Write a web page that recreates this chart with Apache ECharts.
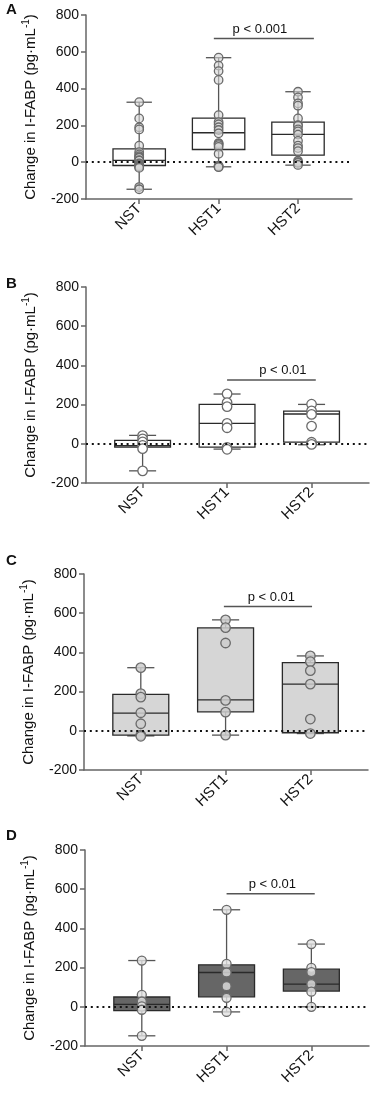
<!DOCTYPE html>
<html><head><meta charset="utf-8">
<script src="https://cdn.jsdelivr.net/npm/echarts@6/dist/echarts.min.js"></script>
<style>html,body{margin:0;padding:0;background:#fff}#c{width:376px;height:1098px}</style>
</head><body><div id="c"></div>
<script>
// ---------- data ----------
const categories = ['NST', 'HST1', 'HST2'];
const panelLetters = ['A', 'B', 'C', 'D'];
const yTickMin = -200, yTickMax = 800, yTickStep = 200;
const pTexts = ['p < 0.001', 'p < 0.01', 'p < 0.01', 'p < 0.01'];

// box stats per category: [min, Q1, median, Q3, max]
const boxA = [[-147, -18, 10, 72, 326], [-25, 69, 160, 239, 568], [-16, 38, 151, 218, 383]];
const boxB = [[-138, -17, -10, 17, 43], [-27, -17, 104, 201, 254], [-5, 9, 152, 167, 201]];
const boxC = [[-26, -22, 90, 186, 322], [-22, 97, 158, 525, 566], [-14, -10, 238, 348, 382]];
const boxD = [[-148, -20, 12, 50, 236], [-26, 51, 175, 214, 495], [0, 80, 116, 192, 320]];

// individual points per category
const ptsA = [
  [326, 238, 190, 178, 90, 55, 42, 33, 27, 24, 11, 9, -6, -12, -18, -22, -26, -31, -135, -147],
  [568, 525, 495, 447, 256, 218, 206, 190, 175, 157, 104, 100, 93, 83, 46, -19, -22, -25, -27],
  [383, 352, 320, 307, 238, 202, 198, 178, 167, 150, 116, 90, 77, 60, 8, 0, -4, -15]
];
const ptsB = [
  [42, 25, 10, -8, -25, -138],
  [255, 210, 190, 104, 82, -18, -28],
  [202, 168, 150, 90, 8, -3]
];
const ptsC = [
  [322, 190, 172, 92, 36, -22, -28],
  [566, 526, 448, 155, 95, -22],
  [382, 353, 307, 238, 60, -14]
];
const ptsD = [
  [236, 61, 27, 2, -15, -148],
  [495, 219, 175, 105, 46, -26],
  [320, 199, 177, 116, 77, 0]
];
// significance bar: [xStart, xEnd, yValue, textX]
const pBarA = [0.94, 2.2, 672, 1.52];
const pBarB = [1.0, 2.05, 326, 1.66];
const pBarC = [0.98, 2.02, 634, 1.54];
const pBarD = [1.0, 2.04, 577, 1.54];

// ---------- layout / style ----------
const boxes = [boxA, boxB, boxC, boxD];
const pts = [ptsA, ptsB, ptsC, ptsD];
const pBars = [pBarA, pBarB, pBarC, pBarD];
const grids = [
  {left: 86, right: 24, top: 15, height: 184},
  {left: 86, right: 7, top: 287, height: 196},
  {left: 84, right: 8, top: 574, height: 196},
  {left: 85, right: 7, top: 850, height: 196}
];
const boxFill = ['rgba(0,0,0,0)', '#ffffff', '#d6d6d6', '#666666'];
const ptFill = ['rgba(215,215,215,0.6)', '#ffffff', 'rgba(205,205,205,0.85)', 'rgba(225,225,225,0.8)'];
const ptSize = [8.5, 9.5, 9.5, 9];
const letterY = [2, 276, 553, 828];
const FONT = '"Liberation Sans", Arial, sans-serif';
const axisColor = '#666';
const BOXW = 0.66, CAPW = 0.32;

const option = {
  animation: false,
  backgroundColor: '#fff',
  grid: [], xAxis: [], yAxis: [], series: [], graphic: []
};

for (let k = 0; k < 4; k++) {
  option.grid.push(Object.assign({containLabel: false}, grids[k]));
  option.xAxis.push({
    type: 'value', gridIndex: k, min: -0.67, max: 2.68,
    axisLine: {show: true, onZero: false, lineStyle: {color: axisColor, width: 1.5}},
    splitLine: {show: false},
    axisTick: {show: true, customValues: [0, 1, 2], length: 5, lineStyle: {color: axisColor, width: 1.5}},
    axisLabel: {customValues: [0, 1, 2], rotate: 45, margin: 7, fontSize: 15, color: '#111', fontFamily: FONT,
      formatter: v => categories[Math.round(v)]}
  });
  option.yAxis.push({
    type: 'value', gridIndex: k, min: yTickMin, max: yTickMax, interval: yTickStep,
    axisLine: {show: true, onZero: false, lineStyle: {color: axisColor, width: 1.5}},
    splitLine: {show: false},
    axisTick: {show: true, length: 5, lineStyle: {color: axisColor, width: 1.5}},
    axisLabel: {fontSize: 14, color: '#111', margin: 7, fontFamily: FONT},
    name: 'Change in I-FABP (pg·mL{sup|-1})',
    nameLocation: 'middle', nameRotate: 90, nameGap: 44,
    nameTextStyle: {fontSize: 15, color: '#111', fontFamily: FONT, lineHeight: 19,
      rich: {sup: {fontSize: 10, lineHeight: 10, verticalAlign: 'top', color: '#111', fontFamily: FONT}}}
  });

  // significance bar + zero line (markLine)
  const pb = pBars[k];
  option.series.push({
    type: 'custom', xAxisIndex: k, yAxisIndex: k, z: 1, silent: true,
    data: [[pb[0], pb[1], pb[2], pb[3]]],
    encode: {x: [0, 1], y: 2},
    renderItem: (params, api) => {
      const a = api.coord([api.value(0), api.value(2)]);
      const b = api.coord([api.value(1), api.value(2)]);
      const t = api.coord([api.value(3), api.value(2)]);
      return {type: 'group', children: [
        {type: 'line', shape: {x1: a[0], y1: a[1], x2: b[0], y2: b[1]}, style: {stroke: '#555', lineWidth: 1.5}},
        {type: 'text', x: t[0], y: a[1] - 3, style: {text: pTexts[k], fontSize: 13, fontFamily: FONT, fill: '#111',
          textAlign: 'center', textVerticalAlign: 'bottom'}}
      ]};
    },
    markLine: {
      silent: true, symbol: 'none', label: {show: false},
      lineStyle: {color: '#111', width: 2, type: [2, 3.8]},
      data: [{yAxis: 0}]
    }
  });

  // boxes
  option.series.push({
    type: 'custom', xAxisIndex: k, yAxisIndex: k, z: 2, silent: true,
    data: boxes[k].map((b, i) => [i].concat(b)),
    encode: {x: 0, y: [1, 2, 3, 4, 5]},
    renderItem: (params, api) => {
      const x = api.value(0);
      const pMin = api.coord([x, api.value(1)]);
      const pQ1 = api.coord([x, api.value(2)]);
      const pMed = api.coord([x, api.value(3)]);
      const pQ3 = api.coord([x, api.value(4)]);
      const pMax = api.coord([x, api.value(5)]);
      const hw = api.size([BOXW, 0])[0] / 2;
      const cw = api.size([CAPW, 0])[0] / 2;
      const cx = pMed[0];
      const ws = {stroke: '#555', lineWidth: 1.3};
      const bs = {stroke: '#2a2a2a', lineWidth: 1.3};
      return {type: 'group', children: [
        {type: 'line', shape: {x1: cx, y1: pMax[1], x2: cx, y2: pQ3[1]}, style: ws},
        {type: 'line', shape: {x1: cx, y1: pQ1[1], x2: cx, y2: pMin[1]}, style: ws},
        {type: 'line', shape: {x1: cx - cw, y1: pMax[1], x2: cx + cw, y2: pMax[1]}, style: ws},
        {type: 'line', shape: {x1: cx - cw, y1: pMin[1], x2: cx + cw, y2: pMin[1]}, style: ws},
        {type: 'rect', shape: {x: cx - hw, y: pQ3[1], width: 2 * hw, height: pQ1[1] - pQ3[1]},
          style: {fill: boxFill[k], stroke: '#2a2a2a', lineWidth: 1.3}},
        {type: 'line', shape: {x1: cx - hw, y1: pMed[1], x2: cx + hw, y2: pMed[1]}, style: bs}
      ]};
    }
  });

  // points
  const sd = [];
  pts[k].forEach((arr, i) => arr.forEach(v => sd.push([i, v])));
  option.series.push({
    type: 'scatter', xAxisIndex: k, yAxisIndex: k, z: 3, silent: true,
    symbol: 'circle', symbolSize: ptSize[k],
    itemStyle: {color: ptFill[k], borderColor: '#6a6a6a', borderWidth: 1.3, opacity: 1},
    data: sd
  });

  option.graphic.push({
    type: 'text', left: 6, top: letterY[k],
    style: {text: panelLetters[k], fontSize: 15, fontWeight: 'bold', fontFamily: FONT, fill: '#111'}
  });
}

const chart = echarts.init(document.getElementById('c'), null, {renderer: 'canvas'});
chart.setOption(option);
</script>
</body></html>
